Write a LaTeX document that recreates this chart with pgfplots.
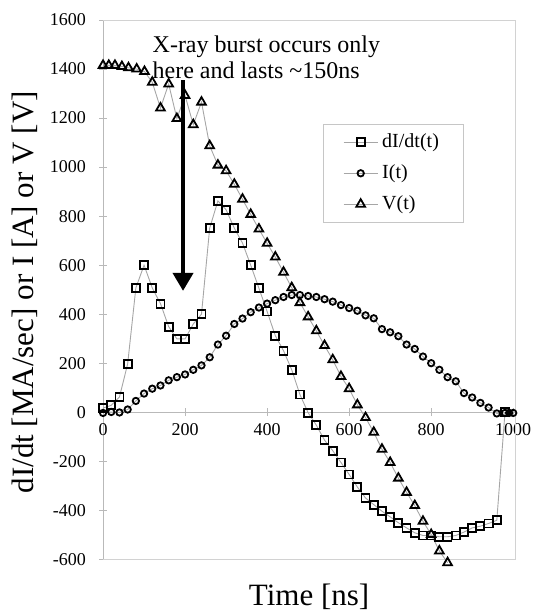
\documentclass[border=0pt]{standalone}
\usepackage{fontspec}
\setmainfont{Liberation Serif}
\usepackage{pgfplots}
\usepackage{pgfplotstable}
\pgfplotsset{compat=1.18}
\usetikzlibrary{arrows.meta}

% dI/dt(t) [MA/sec]
\pgfplotstableread{
t v
0 17
20 28
40 62
60 197
80 507
100 600
120 507
140 443
160 349
180 299
200 299
220 360
240 400
260 751
280 862
300 826
320 751
340 690
360 600
380 506
400 411
420 312
440 251
460 173
480 72
500 -2
520 -53
540 -114
560 -157
580 -205
600 -254
620 -305
640 -350
660 -377
680 -404
700 -427
720 -451
740 -472
760 -492
780 -503
800 -503
820 -508
840 -508
860 -503
880 -489
900 -472
920 -465
940 -454
960 -441
980 0
}\didt

% I(t) [A]
\pgfplotstableread{
t v
0 -3
20 1
40 -1
60 11
80 46
100 76
120 96
140 109
160 130
180 143
200 154
220 173
240 191
260 224
280 276
300 312
320 360
340 382
360 408
380 427
400 443
420 457
440 470
460 478
480 478
500 474
520 470
540 461
560 451
580 437
600 425
620 414
640 395
660 383
680 339
700 326
720 310
740 276
760 258
780 227
800 200
820 173
840 143
860 126
880 78
900 60
920 38
940 19
960 -5
980 -3
990 -3
1000 -3
}\curr

% V(t) [V]
\pgfplotstableread{
t v
0 1415
14 1415
29 1415
46 1410
62 1405
82 1400
101 1390
120 1346
140 1241
160 1339
180 1198
200 1292
220 1173
240 1265
260 1087
280 1008
300 985
320 930
340 869
360 807
380 747
400 689
420 633
440 571
460 508
480 447
500 389
520 332
540 272
560 214
580 146
600 96
620 30
640 -22
660 -82
680 -151
700 -205
720 -269
740 -327
760 -381
780 -445
800 -499
820 -566
840 -614
}\volt

\begin{document}
\begin{tikzpicture}
\begin{axis}[
    name=ax,
    scale only axis,
    width=206pt, height=269.5pt,
    xmin=0, xmax=1005,
    ymin=-600, ymax=1600,
    axis x line=middle,
    axis y line=left,
    axis line style={-, draw=gray!55, line width=0.5pt},
    every inner x axis line/.append style={-},
    every outer y axis line/.append style={-},
    xtick={0,200,...,1000},
    ytick={-600,-400,...,1600},
    tick style={gray!55, line width=0.5pt},
    tick align=center,
    major tick length=4pt,
    hide obscured x ticks=false,
    hide obscured y ticks=false,
    ticklabel style={font=\fontsize{9}{10}\selectfont},
    yticklabel style={xshift=-3pt},
    /pgf/number format/assume math mode=true,
    /pgf/number format/1000 sep={},
    clip=false,
    legend cell align=left,
    legend style={at={(0.533,0.808)}, anchor=north west,
        draw=gray!45, line width=0.4pt, fill=white,
        font=\fontsize{10}{12}\selectfont,
        inner xsep=10pt, inner ysep=3pt, row sep=3pt,
        /tikz/every even column/.append style={column sep=2pt}},
]
\draw[gray!35, line width=0.4pt] (rel axis cs:0,0) -- (rel axis cs:1,0) -- (rel axis cs:1,1) -- (rel axis cs:0,1);

\addplot[gray!70, line width=0.45pt, mark=square, mark size=2pt,
    mark options={solid, draw=black, fill=white, line width=0.9pt}] table {\didt};
\addlegendentry{dI/dt(t)}
\addplot[gray!70, line width=0.45pt, mark=o, mark size=1.6pt,
    mark options={solid, draw=black, fill=white, line width=0.9pt}] table {\curr};
\addlegendentry{I(t)}
\addplot[gray!70, line width=0.45pt, mark=triangle, mark size=2.5pt,
    mark options={solid, draw=black, fill=white, line width=0.9pt}] table {\volt};
\addlegendentry{V(t)}

% annotation
\node[anchor=north west, align=left, inner sep=0pt,
    font=\fontsize{12}{12.5}\selectfont] at (axis cs:120,1535)
    {X-ray burst occurs only\\here and lasts \textasciitilde150ns};
\draw[line width=2pt, -{Triangle[width=10pt,length=9pt]}]
    (axis cs:195,1354) -- (axis cs:195,495);

% axis titles
\node[anchor=north, inner sep=0pt, font=\fontsize{15.5}{16}\selectfont]
    at ([yshift=-12pt]rel axis cs:0.5,0) {Time [ns]};
\node[rotate=90, inner sep=0pt, font=\fontsize{15.5}{16}\selectfont]
    at ([xshift=-39pt]rel axis cs:0,0.495) {dI/dt [MA/sec] or I [A] or V [V]};
\end{axis}
\pgfresetboundingbox
\useasboundingbox ([xshift=-51.5pt,yshift=-25.35pt]ax.south west) rectangle ([xshift=11pt,yshift=10pt]ax.north east);
\end{tikzpicture}
\end{document}
